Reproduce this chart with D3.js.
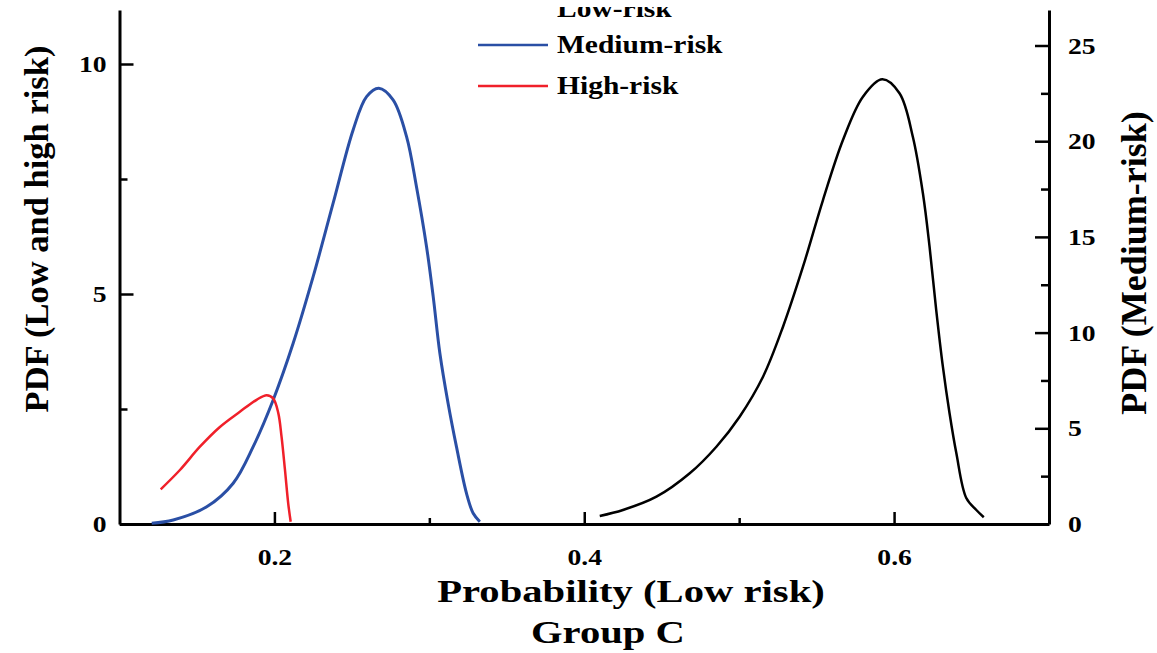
<!DOCTYPE html>
<html>
<head>
<meta charset="utf-8">
<script src="https://cdn.jsdelivr.net/npm/d3@7"></script>
<style>
  html, body { margin: 0; padding: 0; background: #fff; }
  svg { display: block; }
  text { font-family: "Liberation Serif", "Times New Roman", serif; font-weight: bold; fill: #000; }
</style>
</head>
<body>
<svg id="chart" width="1157" height="653"></svg>
<script>
// Probability values (x) and density values for each risk class
const lowX  = [0.410, 0.425, 0.4466, 0.4681, 0.4853, 0.5003, 0.5154, 0.5283, 0.5412, 0.5541, 0.5670, 0.5799, 0.5924, 0.6035, 0.6121, 0.6186, 0.6229, 0.6272, 0.6315, 0.6358, 0.6402, 0.6466, 0.6531, 0.6579];
const lowY  = [0.174, 0.304, 0.593, 1.102, 1.680, 2.333, 3.202, 4.289, 5.593, 7.043, 8.348, 9.289, 9.667, 9.363, 8.420, 7.189, 6.028, 4.652, 3.420, 2.407, 1.537, 0.565, 0.304, 0.146];

const mediumX = [0.1208, 0.1347, 0.1563, 0.1734, 0.1863, 0.1992, 0.2121, 0.2250, 0.2379, 0.2508, 0.2595, 0.2674, 0.2766, 0.2853, 0.2917, 0.2982, 0.3025, 0.3068, 0.3121, 0.3175, 0.3240, 0.3283, 0.3326];
const mediumY = [0.04, 0.21, 0.90, 2.13, 4.04, 6.48, 9.44, 12.92, 16.76, 20.59, 22.33, 22.77, 22.16, 20.24, 17.62, 14.49, 11.88, 8.92, 6.31, 4.04, 1.60, 0.56, 0.12];

const highX = [0.1266, 0.1390, 0.1519, 0.1648, 0.1777, 0.1885, 0.1950, 0.1992, 0.2025, 0.2046, 0.2068, 0.2089, 0.2105];
const highY = [0.754, 1.174, 1.68, 2.11, 2.44, 2.70, 2.80, 2.73, 2.41, 1.90, 1.18, 0.45, 0.05];

// Tick values
const xMajorTicks = [0.2, 0.4, 0.6];
const xMinorTicks = [0.3, 0.5];
const leftMajorTicks = [0, 5, 10];
const leftMinorTicks = [2.5, 7.5];
const rightMajorTicks = [0, 5, 10, 15, 20, 25];
const rightMinorTicks = [2.5, 7.5, 12.5, 17.5, 22.5];

const legendItems = [
  { label: "Low-risk", color: "#000000" },
  { label: "Medium-risk", color: "#2a4fa5" },
  { label: "High-risk", color: "#f0202a" }
];

const svg = d3.select("#chart");

const plotLeft = 119.5, plotRight = 1049, plotTop = 10, plotBottom = 524;

const x = d3.scaleLinear().domain([0.1, 0.7]).range([plotLeft, plotRight]);
const yLeft = d3.scaleLinear().domain([0, (plotBottom - plotTop) / 46]).range([plotBottom, plotTop]);
const yRight = d3.scaleLinear().domain([0, (plotBottom - plotTop) / 19.14]).range([plotBottom, plotTop]);

// Widen glyphs horizontally to the proportions used by the figure's typeface
function stretch(sel, k) {
  sel.each(function () {
    const L = this.getComputedTextLength();
    d3.select(this).attr("textLength", L * k).attr("lengthAdjust", "spacingAndGlyphs");
  });
}

function styleAxis(g) {
  g.select(".domain").attr("stroke", "#000").attr("stroke-width", 3);
  g.selectAll(".tick line").attr("stroke", "#000").attr("stroke-width", 2.5);
  g.selectAll(".tick text")
    .style("font-family", '"Liberation Serif", "Times New Roman", serif')
    .style("font-weight", "bold")
    .attr("font-size", 24)
    .attr("fill", "#000");
}

function styleMinor(g) {
  g.select(".domain").remove();
  g.selectAll(".tick line").attr("stroke", "#000").attr("stroke-width", 2.5);
}

// Minor ticks (no labels, no domain line)
svg.append("g").attr("transform", `translate(0,${plotBottom})`)
  .call(d3.axisBottom(x).tickValues(xMinorTicks).tickSize(-6).tickFormat(""))
  .call(styleMinor);
svg.append("g").attr("transform", `translate(${plotLeft},0)`)
  .call(d3.axisLeft(yLeft).tickValues(leftMinorTicks).tickSize(-8).tickFormat(""))
  .call(styleMinor);
svg.append("g").attr("transform", `translate(${plotRight},0)`)
  .call(d3.axisRight(yRight).tickValues(rightMinorTicks).tickSize(-8).tickFormat(""))
  .call(styleMinor);

// Major axes
const gx = svg.append("g").attr("transform", `translate(0,${plotBottom})`)
  .call(d3.axisBottom(x).tickValues(xMajorTicks).tickSize(-12).tickSizeOuter(0).tickPadding(24).tickFormat(d3.format(".1f")))
  .call(styleAxis);
gx.selectAll(".tick text").call(stretch, 1.15);

const gl = svg.append("g").attr("transform", `translate(${plotLeft},0)`)
  .call(d3.axisLeft(yLeft).tickValues(leftMajorTicks).tickSize(-14).tickSizeOuter(0).tickPadding(13).tickFormat(d3.format("d")))
  .call(styleAxis);
gl.selectAll(".tick text").call(stretch, 1.15);

const gr = svg.append("g").attr("transform", `translate(${plotRight},0)`)
  .call(d3.axisRight(yRight).tickValues(rightMajorTicks).tickSize(-14).tickSizeOuter(0).tickPadding(19).tickFormat(d3.format("d")))
  .call(styleAxis);
gr.selectAll(".tick text").call(stretch, 1.15);

// Density curves
const smooth = d3.curveCatmullRom.alpha(0.5);
const lineLeft = d3.line().x(d => x(d[0])).y(d => yLeft(d[1])).curve(smooth);
const lineRight = d3.line().x(d => x(d[0])).y(d => yRight(d[1])).curve(smooth);

svg.append("path").datum(d3.zip(mediumX, mediumY))
  .attr("d", lineRight).attr("fill", "none").attr("stroke", legendItems[1].color).attr("stroke-width", 3);
svg.append("path").datum(d3.zip(highX, highY))
  .attr("d", lineLeft).attr("fill", "none").attr("stroke", legendItems[2].color).attr("stroke-width", 2.5);
svg.append("path").datum(d3.zip(lowX, lowY))
  .attr("d", lineLeft).attr("fill", "none").attr("stroke", legendItems[0].color).attr("stroke-width", 2.5);

// Legend (top row is cut off by the figure's top edge)
svg.append("defs").append("clipPath").attr("id", "legendClip")
  .append("rect").attr("x", 0).attr("y", 7).attr("width", 1157).attr("height", 646);
const legend = svg.append("g").attr("clip-path", "url(#legendClip)");
const legendBaselines = [17, 53, 94];
const legendLineY = [5.5, 45, 86];
legendItems.forEach((item, i) => {
  legend.append("line")
    .attr("x1", 478).attr("x2", 548)
    .attr("y1", legendLineY[i]).attr("y2", legendLineY[i])
    .attr("stroke", item.color).attr("stroke-width", 2.5);
  legend.append("text")
    .attr("x", 557).attr("y", legendBaselines[i])
    .attr("font-size", 25)
    .text(item.label)
    .call(stretch, 1.18);
});

// Axis titles
svg.append("text")
  .attr("transform", "translate(48,229) rotate(-90)")
  .attr("text-anchor", "middle").attr("font-size", 34.5)
  .text("PDF (Low and high risk)");

svg.append("text")
  .attr("transform", "translate(1146,263) rotate(-90)")
  .attr("text-anchor", "middle").attr("font-size", 36)
  .text("PDF (Medium-risk)");

svg.append("text")
  .attr("x", 631).attr("y", 602)
  .attr("text-anchor", "middle").attr("font-size", 32)
  .text("Probability (Low risk)")
  .call(stretch, 1.27);

svg.append("text")
  .attr("x", 608).attr("y", 643)
  .attr("text-anchor", "middle").attr("font-size", 32)
  .text("Group C")
  .call(stretch, 1.27);
</script>
</body>
</html>
